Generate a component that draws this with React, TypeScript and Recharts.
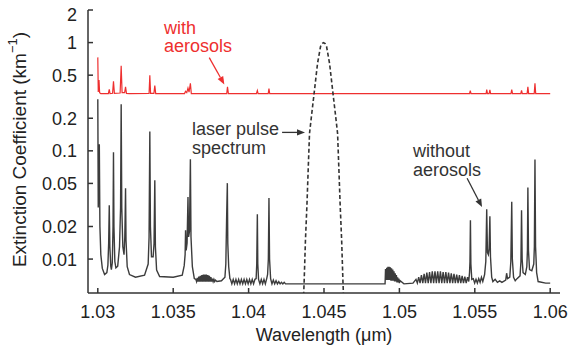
import { LineChart, Line, XAxis, YAxis, ReferenceDot, ReferenceLine } from "recharts"

const xTicks = [1.03, 1.035, 1.04, 1.045, 1.05, 1.055, 1.06]
const yTicks = [0.01, 0.02, 0.05, 0.1, 0.2, 0.5, 1, 2]

// [wavelength (um), extinction (km^-1)]
const withAerosols: [number, number][] = [
  [1.03, 0.73], [1.03003, 0.35], [1.03008, 0.45], [1.03012, 0.345], [1.0302, 0.337],
  [1.0307, 0.338], [1.03076, 0.37], [1.03081, 0.338],
  [1.03098, 0.34], [1.03104, 0.44], [1.0311, 0.34],
  [1.03148, 0.342], [1.03155, 0.61], [1.03161, 0.345],
  [1.03178, 0.345], [1.03184, 0.39], [1.0319, 0.339],
  [1.0321, 0.337],
  [1.0334, 0.339], [1.03345, 0.5], [1.0335, 0.34],
  [1.03372, 0.34], [1.03378, 0.4], [1.03384, 0.338],
  [1.03575, 0.338], [1.03582, 0.355], [1.0359, 0.345], [1.03598, 0.38], [1.03605, 0.348],
  [1.03614, 0.42], [1.0362, 0.338],
  [1.03855, 0.337], [1.0386, 0.39], [1.03866, 0.338],
  [1.04052, 0.337], [1.04058, 0.36], [1.04063, 0.337],
  [1.0413, 0.337], [1.04135, 0.375], [1.0414, 0.337],
  [1.05465, 0.337], [1.0547, 0.36], [1.05475, 0.337],
  [1.05575, 0.337], [1.05579, 0.367], [1.05584, 0.338], [1.05595, 0.338], [1.056, 0.365], [1.05605, 0.337],
  [1.0574, 0.337], [1.05745, 0.367], [1.0575, 0.337],
  [1.05805, 0.337], [1.0581, 0.362], [1.05815, 0.337],
  [1.05847, 0.338], [1.05852, 0.39], [1.05857, 0.338],
  [1.05894, 0.338], [1.05899, 0.42], [1.05904, 0.337],
  [1.06, 0.337],
]

const withoutAerosols: [number, number][] = [
  [1.03, 0.3], [1.03003, 0.03], [1.03007, 0.05], [1.0301, 0.115], [1.03014, 0.02],
  [1.0302, 0.011], [1.0303, 0.0082], [1.03045, 0.0072], [1.0306, 0.0075],
  [1.03067, 0.0088], [1.03072, 0.014], [1.03076, 0.0314], [1.0308, 0.013], [1.03086, 0.0086],
  [1.0309, 0.008], [1.03096, 0.0092], [1.03101, 0.02], [1.03104, 0.097], [1.03107, 0.02],
  [1.03113, 0.0095], [1.0312, 0.0083], [1.03132, 0.0086], [1.03144, 0.013], [1.03151, 0.03],
  [1.03155, 0.27], [1.03159, 0.03], [1.03166, 0.013], [1.03174, 0.011], [1.03179, 0.016],
  [1.03181, 0.023], [1.03184, 0.045], [1.03187, 0.015], [1.03195, 0.0085], [1.0321, 0.0072],
  [1.0325, 0.0068], [1.0331, 0.0071], [1.03334, 0.009], [1.0334, 0.016], [1.03345, 0.151],
  [1.03349, 0.02], [1.03356, 0.0105], [1.03367, 0.0105], [1.03373, 0.014], [1.03378, 0.0535],
  [1.03382, 0.013], [1.0339, 0.0079], [1.0341, 0.0069], [1.035, 0.0068], [1.0356, 0.0071],
  [1.03573, 0.0087], [1.03579, 0.011], [1.03582, 0.0185], [1.03586, 0.012], [1.03592, 0.014],
  [1.03598, 0.0374], [1.03602, 0.016], [1.03608, 0.018], [1.03614, 0.0837], [1.03618, 0.016],
  [1.03627, 0.0085], [1.0364, 0.0066],
  [1.0365, 0.0065], [1.03655, 0.0062], [1.0366, 0.0067], [1.03665, 0.0062], [1.0367, 0.0069],
  [1.03675, 0.0062], [1.0368, 0.007], [1.03685, 0.0062], [1.0369, 0.0071], [1.03695, 0.0062],
  [1.037, 0.0072], [1.03705, 0.0062], [1.0371, 0.0072], [1.03715, 0.0062], [1.0372, 0.0072],
  [1.03725, 0.0062], [1.0373, 0.0071], [1.03735, 0.0062], [1.0374, 0.007], [1.03745, 0.0062],
  [1.0375, 0.0068], [1.03755, 0.0062], [1.0376, 0.0066], [1.03765, 0.0062], [1.0377, 0.0065],
  [1.03775, 0.0062], [1.0378, 0.0064], [1.0379, 0.0062], [1.0382, 0.0063],
  [1.03843, 0.0068], [1.03849, 0.009], [1.03854, 0.0228], [1.03859, 0.0503], [1.03862, 0.014],
  [1.03868, 0.0085], [1.03876, 0.0066],
  [1.0388, 0.0065], [1.03889, 0.0059], [1.03898, 0.0065], [1.03907, 0.0059], [1.03916, 0.0065],
  [1.03925, 0.0059], [1.03934, 0.0065], [1.03943, 0.0059], [1.03952, 0.0065], [1.03961, 0.0059],
  [1.0397, 0.0065], [1.03979, 0.0059], [1.03988, 0.0065], [1.03997, 0.0059], [1.04006, 0.0065],
  [1.04015, 0.0059], [1.04024, 0.0065], [1.04033, 0.0059], [1.04042, 0.0065],
  [1.0405, 0.0066], [1.04054, 0.009], [1.04058, 0.026], [1.04061, 0.009], [1.04066, 0.0065],
  [1.04075, 0.0059], [1.04084, 0.0065], [1.04093, 0.0059], [1.04102, 0.0065], [1.04111, 0.0059],
  [1.0412, 0.0066], [1.04126, 0.0072], [1.04131, 0.01], [1.04135, 0.0366], [1.04139, 0.01],
  [1.04146, 0.0066], [1.04155, 0.0059], [1.04164, 0.0064], [1.04173, 0.0059], [1.04182, 0.0063],
  [1.04191, 0.0059], [1.042, 0.0062], [1.04209, 0.0059], [1.04218, 0.0061], [1.04227, 0.0059],
  [1.04236, 0.0061], [1.04245, 0.0059], [1.043, 0.0059], [1.046, 0.0059], [1.049, 0.0059],
  [1.04905, 0.0059], [1.04908, 0.0081], [1.04912, 0.0064], [1.04916, 0.0083], [1.0492, 0.0064],
  [1.04924, 0.0085], [1.04928, 0.0064], [1.04932, 0.0085], [1.04936, 0.0064], [1.0494, 0.0084],
  [1.04944, 0.0063], [1.04948, 0.0082], [1.04952, 0.0063], [1.04956, 0.008], [1.0496, 0.0063],
  [1.04964, 0.0077], [1.04968, 0.0062], [1.04972, 0.0074], [1.04976, 0.0062], [1.0498, 0.0071],
  [1.04984, 0.0061], [1.04988, 0.0068], [1.04992, 0.0061], [1.04996, 0.0066], [1.05, 0.006],
  [1.05005, 0.0063], [1.0503, 0.0059], [1.0509, 0.006],
  [1.0511, 0.0065], [1.05119, 0.006], [1.05128, 0.0068], [1.05137, 0.006], [1.05146, 0.0071],
  [1.05155, 0.006], [1.05164, 0.0073], [1.05173, 0.006], [1.05182, 0.0075], [1.05191, 0.006],
  [1.052, 0.0076], [1.05209, 0.006], [1.05218, 0.0077], [1.05227, 0.006], [1.05236, 0.0077],
  [1.05245, 0.006], [1.05254, 0.0077], [1.05263, 0.006], [1.05272, 0.0077], [1.05281, 0.006],
  [1.0529, 0.0076], [1.05299, 0.006], [1.05308, 0.0076], [1.05317, 0.006], [1.05326, 0.0075],
  [1.05335, 0.006], [1.05344, 0.0074], [1.05353, 0.006], [1.05362, 0.0073], [1.05371, 0.006],
  [1.0538, 0.0072], [1.05389, 0.006], [1.05398, 0.0071], [1.05407, 0.006], [1.05416, 0.007],
  [1.05425, 0.006], [1.05434, 0.0069], [1.05443, 0.006], [1.05452, 0.0068], [1.0546, 0.0062],
  [1.05465, 0.0075], [1.05468, 0.0095], [1.05471, 0.0228], [1.05474, 0.009], [1.0548, 0.0065],
  [1.0549, 0.0066], [1.05499, 0.006], [1.05508, 0.0065], [1.05517, 0.006], [1.05526, 0.0066],
  [1.05535, 0.0061], [1.05544, 0.0068], [1.05553, 0.0062], [1.05565, 0.0072], [1.05573, 0.0095],
  [1.05579, 0.0289], [1.05584, 0.0115], [1.0559, 0.011], [1.05595, 0.0125], [1.056, 0.0249],
  [1.05604, 0.0105], [1.05612, 0.0068], [1.0562, 0.0062], [1.05635, 0.0065], [1.0565, 0.0061],
  [1.05665, 0.0063], [1.0568, 0.0061], [1.05705, 0.0064], [1.05711, 0.0074], [1.05717, 0.0066],
  [1.05732, 0.0068], [1.05739, 0.0095], [1.05745, 0.0338], [1.05749, 0.01], [1.05757, 0.0068],
  [1.05768, 0.0063], [1.0578, 0.0066], [1.058, 0.007], [1.05806, 0.0095], [1.0581, 0.0283],
  [1.05814, 0.01], [1.0582, 0.0075], [1.05835, 0.0072], [1.05845, 0.0085], [1.05849, 0.012],
  [1.05852, 0.0458], [1.05856, 0.012], [1.05863, 0.008], [1.05878, 0.0078], [1.05891, 0.009],
  [1.05895, 0.013], [1.05899, 0.083], [1.05903, 0.013], [1.0591, 0.0075], [1.0592, 0.0062],
  [1.0597, 0.006], [1.06, 0.006],
]

const laserPulse: [number, number][] = [
  [1.04363, 0.004], [1.04368, 0.006], [1.04377, 0.015], [1.04387, 0.032], [1.04395, 0.066],
  [1.04404, 0.145], [1.04417, 0.21], [1.04435, 0.345], [1.04457, 0.64], [1.04477, 0.92],
  [1.04487, 0.98], [1.04497, 1.0], [1.04507, 0.98], [1.04517, 0.92], [1.04537, 0.64],
  [1.04559, 0.345], [1.04577, 0.21], [1.0459, 0.145], [1.04599, 0.066], [1.04607, 0.032],
  [1.04617, 0.015], [1.04626, 0.006], [1.04631, 0.004],
]

const red = "#ee2f2f"
const ink = "#333"
const font = "'Liberation Sans', Arial, Helvetica, sans-serif"

const notes = [
  { w: 1.03439, v: 1.21, lines: ["with", "aerosols"], color: red },
  { w: 1.03625, v: 0.139, lines: ["laser pulse", "spectrum"], color: ink },
  { w: 1.0509, v: 0.0872, lines: ["without", "aerosols"], color: ink },
]

const arrows = [
  { from: [1.03739, 0.727], to: [1.03839, 0.41], color: red },
  { from: [1.04222, 0.148], to: [1.04374, 0.148], color: ink },
  { from: [1.05449, 0.0558], to: [1.05548, 0.0302], color: ink },
]

const rows = (pts: [number, number][]) => pts.map(([w, v]) => ({ w, v }))

// ticks point into the plot, so the tick marks are drawn with the labels
function BottomTick({ x, y, payload }: any) {
  return (
    <g>
      <line x1={x} y1={y} x2={x} y2={y - 5} stroke={ink} strokeWidth={1.5} />
      <text x={x} y={y} dy={25} textAnchor="middle" fontSize={18} fontFamily={font} fill="#222">
        {String(payload.value)}
      </text>
    </g>
  )
}

function TopTick({ x, y }: any) {
  return <line x1={x} y1={y} x2={x} y2={y + 5} stroke={ink} strokeWidth={1.5} />
}

function LeftTick({ x, y, payload }: any) {
  return (
    <g>
      <line x1={x + 11} y1={y} x2={x + 16} y2={y} stroke={ink} strokeWidth={1.5} />
      <text x={x} y={y} dy={payload.value === 2 ? 11 : 6.5} textAnchor="end" fontSize={18} fontFamily={font} fill="#222">
        {String(payload.value)}
      </text>
    </g>
  )
}

function RightTick({ x, y }: any) {
  return <line x1={x} y1={y} x2={x - 5} y2={y} stroke={ink} strokeWidth={1.5} />
}

function Arrow({ x1, y1, x2, y2, color }: any) {
  const a = Math.atan2(y2 - y1, x2 - x1)
  const len = 8
  const half = 3.2
  const bx = x2 - len * Math.cos(a)
  const by = y2 - len * Math.sin(a)
  const px = -Math.sin(a) * half
  const py = Math.cos(a) * half
  return (
    <g>
      <line x1={x1} y1={y1} x2={bx} y2={by} stroke={color} strokeWidth={1.3} />
      <polygon points={`${x2},${y2} ${bx + px},${by + py} ${bx - px},${by - py}`} fill={color} />
    </g>
  )
}

export default function App() {
  return (
    <div style={{ position: "absolute", left: 0, top: 0, background: "#fff" }}>
      <LineChart width={569} height={349} margin={{ top: 10, right: 9, bottom: 0, left: 0 }}>
        <XAxis
          type="number"
          dataKey="w"
          domain={[1.02935, 1.06065]}
          allowDataOverflow
          ticks={xTicks}
          height={56}
          tickSize={0}
          tickMargin={0}
          tickLine={false}
          tick={<BottomTick />}
          stroke={ink}
          strokeWidth={1.5}
          label={(p: any) => {
            const vb = p.viewBox
            return (
              <text x={vb.x + vb.width / 2} y={vb.y + 48} textAnchor="middle" fontSize={18} fontFamily={font} fill="#222">
                Wavelength (μm)
              </text>
            )
          }}
        />
        <XAxis
          xAxisId="top"
          orientation="top"
          type="number"
          domain={[1.02935, 1.06065]}
          allowDataOverflow
          ticks={xTicks}
          height={0}
          tickSize={0}
          tickMargin={0}
          tickLine={false}
          tick={<TopTick />}
          stroke={ink}
          strokeWidth={1.5}
        />
        <YAxis
          scale="log"
          type="number"
          domain={[0.00486, 2]}
          allowDataOverflow
          ticks={yTicks}
          width={88}
          tickSize={0}
          tickMargin={11}
          tickLine={false}
          tick={<LeftTick />}
          stroke={ink}
          strokeWidth={1.5}
          label={(p: any) => {
            const vb = p.viewBox
            const cx = vb.x + 19
            const cy = vb.y + vb.height / 2 - 2
            return (
              <text
                x={cx}
                y={cy}
                transform={`rotate(-90 ${cx} ${cy})`}
                textAnchor="middle"
                dominantBaseline="central"
                fontSize={19}
                fontFamily={font}
                fill="#222"
              >
                Extinction Coefficient (km
                <tspan dy={-7} fontSize={13}>−1</tspan>
                <tspan dy={7}>)</tspan>
              </text>
            )
          }}
        />
        <YAxis
          yAxisId="right"
          orientation="right"
          scale="log"
          type="number"
          domain={[0.00486, 2]}
          allowDataOverflow
          ticks={yTicks}
          width={0}
          tickSize={0}
          tickMargin={0}
          tickLine={false}
          tick={<RightTick />}
          stroke={ink}
          strokeWidth={1.5}
        />
        <Line data={rows(withAerosols)} dataKey="v" type="linear" stroke={red} strokeWidth={1.2} dot={false} isAnimationActive={false} />
        <Line data={rows(withoutAerosols)} dataKey="v" type="linear" stroke="#3c3c3c" strokeWidth={1.4} dot={false} isAnimationActive={false} />
        <Line
          data={rows(laserPulse)}
          dataKey="v"
          type="linear"
          stroke={ink}
          strokeWidth={1.6}
          strokeDasharray="4 2.5"
          dot={false}
          isAnimationActive={false}
        />
        {arrows.map((a, i) => (
          <ReferenceLine
            key={`a${i}`}
            segment={[{ x: a.from[0], y: a.from[1] }, { x: a.to[0], y: a.to[1] }]}
            shape={(p: any) => <Arrow {...p} color={a.color} />}
          />
        ))}
        {notes.map((n, i) => (
          <ReferenceDot
            key={`n${i}`}
            x={n.w}
            y={n.v}
            r={0}
            shape={(p: any) => (
              <text x={p.cx} y={p.cy} fontSize={18} fontFamily={font} fill={n.color}>
                {n.lines.map((t, j) => (
                  <tspan key={j} x={p.cx} dy={j === 0 ? 0 : 18.5}>
                    {t}
                  </tspan>
                ))}
              </text>
            )}
          />
        ))}
      </LineChart>
    </div>
  )
}
